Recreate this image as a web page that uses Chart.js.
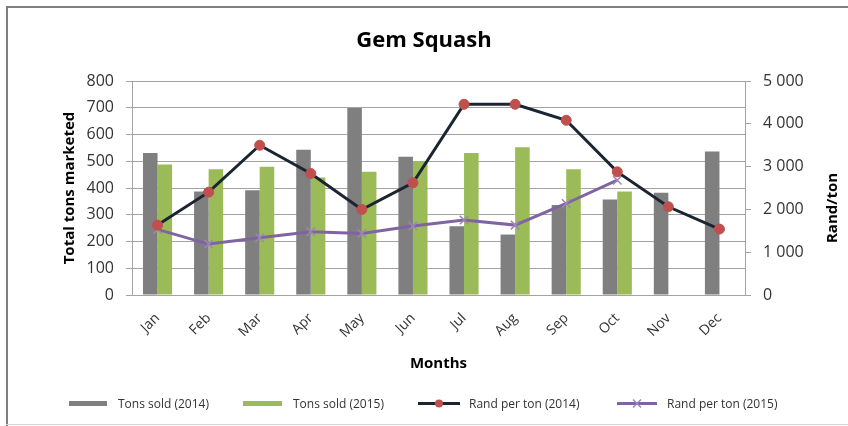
<!DOCTYPE html>
<html><head><meta charset="utf-8">
<script src="https://cdn.jsdelivr.net/npm/chart.js@4.4.0/dist/chart.umd.min.js"></script>
<style>html,body{margin:0;padding:0;background:#fff;}#wrap{width:848px;height:426px;position:relative;}</style>
</head><body><div id="wrap"><canvas id="c" width="848" height="426"></canvas></div>
<script>
const months = ['Jan','Feb','Mar','Apr','May','Jun','Jul','Aug','Sep','Oct','Nov','Dec'];
const tons2014 = [531,387,392,543,699,517,257,226,336,357,382,536];
const tons2015 = [488,470,479,439,461,500,531,552,470,387,null,null];
const rand2014 = [1633,2403,3499,2838,1998,2620,4456,4456,4082,2877,2061,1540];
const rand2015 = [1532,1190,1337,1477,1439,1610,1750,1633,2138,2683,null,null];
const leftTickLabels = ['0','100','200','300','400','500','600','700','800'];
const rightTickLabels = ['0','1 000','2 000','3 000','4 000','5 000'];
const seriesNames = ['Tons sold (2014)','Tons sold (2015)','Rand per ton (2014)','Rand per ton (2015)'];

const FONT = "'Open Sans', sans-serif";
const GRID = '#a3a3a3';
const TXT = '#333333';
const C_GRAY = '#7f7f7f', C_GREEN = '#9bbb59', C_DARK = '#1b2532', C_RED = '#c0504d', C_PURPLE = '#8064a2', C_PURPLE_PT = '#9a88b0';

const decor = {
  id: 'decor',
  beforeDraw(chart) {
    const ctx = chart.ctx;
    ctx.save();
    ctx.fillStyle = '#fff';
    ctx.fillRect(0, 0, chart.width, chart.height);
    ctx.fillStyle = '#7f7f7f';
    ctx.fillRect(6, 6, 842, 2);
    ctx.fillRect(6, 6, 2, 420);
    ctx.fillStyle = '#d4d4d4';
    ctx.fillRect(6, 424, 842, 1);
    ctx.restore();
  },
  afterDraw(chart) {
    const ctx = chart.ctx;
    ctx.save();
    ctx.translate(833, 208);
    ctx.rotate(-Math.PI / 2);
    ctx.font = "bold 15px " + FONT;
    ctx.fillStyle = '#000';
    ctx.textAlign = 'center';
    ctx.textBaseline = 'middle';
    ctx.fillText('Rand/ton', 0, 0);
    ctx.restore();

    ctx.save();
    const ly = 403.5;
    ctx.font = "12px " + FONT;
    ctx.textAlign = 'left';
    ctx.textBaseline = 'middle';
    ctx.fillStyle = C_GRAY; ctx.fillRect(69, 401, 38, 5);
    ctx.fillStyle = C_GREEN; ctx.fillRect(243, 401, 39, 5);
    ctx.lineWidth = 3;
    ctx.strokeStyle = C_DARK;
    ctx.beginPath(); ctx.moveTo(418, ly); ctx.lineTo(460, ly); ctx.stroke();
    ctx.fillStyle = C_RED;
    ctx.beginPath(); ctx.arc(439, ly, 4, 0, Math.PI * 2); ctx.fill();
    ctx.strokeStyle = C_PURPLE;
    ctx.beginPath(); ctx.moveTo(617, ly); ctx.lineTo(657, ly); ctx.stroke();
    ctx.strokeStyle = C_PURPLE_PT; ctx.lineWidth = 1.5;
    ctx.beginPath();
    ctx.moveTo(633, ly - 4); ctx.lineTo(641, ly + 4);
    ctx.moveTo(641, ly - 4); ctx.lineTo(633, ly + 4);
    ctx.stroke();
    ctx.fillStyle = TXT;
    ctx.fillText(seriesNames[0], 118, ly + 1);
    ctx.fillText(seriesNames[1], 293, ly + 1);
    ctx.fillText(seriesNames[2], 469, ly + 1);
    ctx.fillText(seriesNames[3], 667, ly + 1);
    ctx.restore();
  }
};

new Chart(document.getElementById('c'), {
  data: {
    labels: months,
    datasets: [
      { type: 'line', label: seriesNames[2], data: rand2014, yAxisID: 'y1', order: 0,
        borderColor: C_DARK, borderWidth: 3, tension: 0,
        pointStyle: 'circle', pointRadius: 5, pointBackgroundColor: C_RED, pointBorderColor: C_RED, pointBorderWidth: 1 },
      { type: 'line', label: seriesNames[3], data: rand2015, yAxisID: 'y1', order: 1,
        borderColor: C_PURPLE, borderWidth: 3, tension: 0,
        pointStyle: 'crossRot', pointRadius: 6, pointBorderColor: C_PURPLE_PT, pointBorderWidth: 1.5 },
      { type: 'bar', label: seriesNames[0], data: tons2014, yAxisID: 'y', order: 2,
        backgroundColor: C_GRAY, barPercentage: 1, categoryPercentage: 0.57 },
      { type: 'bar', label: seriesNames[1], data: tons2015, yAxisID: 'y', order: 2,
        backgroundColor: C_GREEN, barPercentage: 1, categoryPercentage: 0.57 }
    ]
  },
  options: {
    responsive: false,
    animation: false,
    layout: { padding: 0 },
    plugins: {
      legend: { display: false },
      tooltip: { enabled: false },
      title: { display: true, text: 'Gem Squash', color: '#000',
        font: { family: FONT, size: 22, weight: 'bold', lineHeight: 1.2 },
        padding: { top: 28, bottom: 26.6 } }
    },
    scales: {
      x: {
        offset: true,
        grid: { display: false, drawTicks: false },
        border: { display: true, color: GRID },
        ticks: { minRotation: 45, maxRotation: 45, autoSkip: false, padding: 15,
          color: TXT, font: { family: FONT, size: 14 } },
        title: { display: true, text: 'Months', color: '#000',
          font: { family: FONT, size: 15, weight: 'bold', lineHeight: 1.2 },
          padding: { top: 0, bottom: 53 } },
        afterFit(s) { s.height = 131; }
      },
      y: {
        position: 'left', min: 0, max: 800,
        grid: { color: GRID, tickLength: 6 },
        border: { display: true, color: GRID },
        ticks: { stepSize: 100, padding: 12, color: TXT, font: { family: FONT, size: 16 },
          callback: (v, i) => leftTickLabels[i] },
        title: { display: true, text: 'Total tons marketed', color: '#000',
          font: { family: FONT, size: 15, weight: 'bold', lineHeight: 1.2 },
          padding: { top: 61, bottom: 0 } },
        afterFit(s) { s.width = 132; }
      },
      y1: {
        position: 'right', min: 0, max: 5000,
        grid: { drawOnChartArea: false, color: GRID, tickLength: 6 },
        border: { display: true, color: GRID },
        ticks: { stepSize: 1000, padding: 12, color: TXT, font: { family: FONT, size: 16 },
          callback: (v, i) => rightTickLabels[i] },
        afterFit(s) { s.width = 103; }
      }
    }
  },
  plugins: [decor]
});
</script>
</body></html>
